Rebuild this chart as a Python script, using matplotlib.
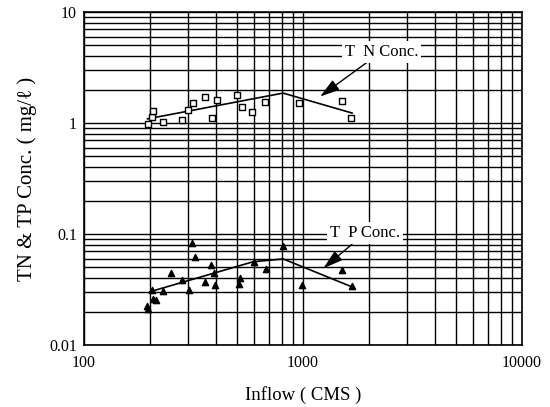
import numpy as np
import matplotlib
matplotlib.use("Agg")
import matplotlib.pyplot as plt

# TN observations (squares) and fitted trend
tn_flow = [195, 204, 207, 230, 279, 299, 315, 357, 383, 404, 498, 525, 583, 670, 962, 1503, 1651]
tn_conc = [0.97, 1.14, 1.29, 1.03, 1.06, 1.31, 1.50, 1.70, 1.10, 1.61, 1.77, 1.38, 1.25, 1.55, 1.52, 1.59, 1.10]
tn_fit_flow = [195, 811, 1675]
tn_fit_conc = [1.09, 1.86, 1.23]

# TP observations (triangles) and fitted trend
tp_flow = [193, 196, 204, 207, 213, 230, 249, 279, 303, 310, 321, 357, 379, 392, 397,
           508, 515, 600, 678, 813, 986, 1503, 1667]
tp_conc = [0.0225, 0.021, 0.0313, 0.0258, 0.0254, 0.0306, 0.0443, 0.0385, 0.0313, 0.0835,
           0.0625, 0.0372, 0.0526, 0.0443, 0.0347, 0.0358, 0.0399, 0.0563, 0.048, 0.078,
           0.0347, 0.0472, 0.034]
tp_fit_flow = [200, 593, 813, 1667]
tp_fit_conc = [0.0302, 0.0563, 0.0596, 0.0335]

serif = ['Liberation Serif', 'DejaVu Serif']
plt.rcParams['font.family'] = serif

fig = plt.figure(figsize=(5.5, 4.07), dpi=100)
ax = fig.add_axes([0.1527, 0.1523, 0.7964, 0.8182])
ax.set_xscale('log')
ax.set_yscale('log')
ax.set_xlim(100, 10000)
ax.set_ylim(0.01, 10)

ax.grid(True, which='both', color='black', lw=1.0)
ax.set_axisbelow(True)
ax.tick_params(which='both', length=0, labelsize=11.5)
ax.set_xticks([100, 1000, 10000])
ax.set_xticklabels(['100', '1000', '10000'])
ax.set_yticks([0.01, 0.1, 1, 10])
ax.set_yticklabels(['0.01', '0.1', '1', '10'])
ax.tick_params(axis='x', pad=7)
ax.tick_params(axis='y', pad=5)
for s in ax.spines.values():
    s.set_color('black')
    s.set_linewidth(1.2)

# TN
ax.plot(tn_fit_flow, tn_fit_conc, color='black', lw=1.2, zorder=3)
ax.scatter(tn_flow, tn_conc, marker='s', s=22, facecolors='white',
           edgecolors='black', linewidths=1.0, zorder=4)

# TP
ax.plot(tp_fit_flow, tp_fit_conc, color='black', lw=1.2, zorder=3)
ax.scatter(tp_flow, tp_conc, marker='^', s=20, color='black', zorder=4)

arrow = dict(arrowstyle='-|>,head_length=1.0,head_width=0.3', color='black',
             lw=1.0, shrinkA=0, shrinkB=0)
box = dict(facecolor='white', edgecolor='none', pad=2)
ax.annotate('T  N Conc.', xy=(1197, 1.73), xytext=(2285, 4.39),
            ha='center', va='center', fontsize=12, bbox=box,
            arrowprops=arrow, zorder=5)
ax.annotate('T  P Conc.', xy=(1239, 0.0491), xytext=(1920, 0.1015),
            ha='center', va='center', fontsize=12, bbox=box,
            arrowprops=arrow, zorder=5)

ax.set_xlabel('Inflow ( CMS )', fontsize=13.5, labelpad=11)
ax.set_ylabel('TN & TP Conc. ( mg/\u2113 )', fontsize=15, labelpad=9)

fig.savefig('out.png', dpi=100)
